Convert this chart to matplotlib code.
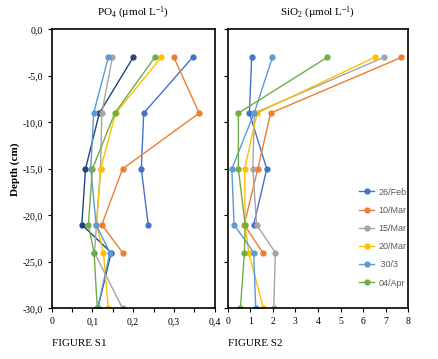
import numpy as np
import matplotlib
matplotlib.use("Agg")
import matplotlib.pyplot as plt
from matplotlib.ticker import FuncFormatter, MultipleLocator

plt.rcParams['font.family'] = ['Liberation Serif', 'DejaVu Serif']
plt.rcParams['mathtext.fontset'] = 'custom'
plt.rcParams['mathtext.rm'] = 'Liberation Serif'
plt.rcParams['mathtext.it'] = 'Liberation Serif:italic'

# series labels and colours (Excel default palette)
labels = ['26/Feb', '10/Mar', '15/Mar', '20/Mar', ' 30/3', '04/Apr']
colors = ['#4472C4', '#ED7D31', '#A5A5A5', '#FFC000', '#5B9BD5', '#70AD47']

# PO4 profiles (depth, value)
po4_depth = {
    '26/Feb': [-3, -9, -15, -21],
    '10/Mar': [-3, -9, -15, -21, -24],
    '15/Mar': [-3, -9, -15, -21, -24, -30],
    '20/Mar': [-3, -9, -15, -21, -24, -30],
    ' 30/3':  [-3, -9, -15, -21, -24, -30],
    '04/Apr': [-3, -9, -15, -21, -24, -30],
}
po4_vals = {
    '26/Feb': [0.346, 0.226, 0.220, 0.237],
    '10/Mar': [0.300, 0.362, 0.174, 0.123, 0.174],
    '15/Mar': [0.149, 0.123, 0.120, 0.110, 0.105, 0.174],
    '20/Mar': [0.269, 0.157, 0.120, 0.110, 0.127, 0.139],
    ' 30/3':  [0.139, 0.103, 0.096, 0.109, 0.143, 0.113],
    '04/Apr': [0.253, 0.155, 0.100, 0.090, 0.104, 0.112],
}
# extra unlabelled series only on the PO4 chart
navy_depth = [-3, -9, -15, -21, -24, -30]
navy_vals = [0.200, 0.117, 0.083, 0.074, 0.146, 0.113]

# SiO2 profiles
sio2_depth = {
    '26/Feb': [-3, -9, -15, -21],
    '10/Mar': [-3, -9, -15, -21, -24],
    '15/Mar': [-3, -9, -15, -21, -24, -30],
    '20/Mar': [-3, -9, -15, -21, -24, -30],
    ' 30/3':  [-3, -9, -15, -21, -24, -30],
    '04/Apr': [-3, -9, -15, -21, -24, -30],
}
sio2_vals = {
    '26/Feb': [1.06, 0.96, 1.73, 1.15],
    '10/Mar': [7.70, 1.90, 1.33, 0.73, 1.55],
    '15/Mar': [6.92, 1.18, 1.11, 1.28, 2.11, 2.04],
    '20/Mar': [6.51, 1.30, 0.75, 0.77, 0.93, 1.58],
    ' 30/3':  [1.98, 1.17, 0.18, 0.28, 1.15, 1.24],
    '04/Apr': [4.41, 0.47, 0.47, 0.77, 0.74, 0.56],
}

def comma_x(v, pos):
    if abs(v) < 1e-9:
        return '0'
    return '{:.1f}'.format(v).replace('.', ',')

fig = plt.figure(figsize=(4.38, 3.59), dpi=100)
ax1 = fig.add_axes([0.118, 0.141, 0.372, 0.777])
ax2 = fig.add_axes([0.520, 0.141, 0.412, 0.777])

ax1.plot(navy_vals, navy_depth, color='#264478', marker='o', ms=3.5, lw=1)
for lab, c in zip(labels, colors):
    ax1.plot(po4_vals[lab], po4_depth[lab], color=c, marker='o', ms=3.5, lw=1)
    ax2.plot(sio2_vals[lab], sio2_depth[lab], color=c, marker='o', ms=3.5, lw=1, label=lab)

ax1.set_xlim(0, 0.4)
ax2.set_xlim(0, 8)
for ax in (ax1, ax2):
    ax.set_ylim(-30, 0)
    ax.yaxis.set_major_locator(MultipleLocator(5))
    for s in ax.spines.values():
        s.set_linewidth(1.2)
        s.set_color('black')
    ax.tick_params(labelsize=7, length=3, width=0.8, direction='out')

ax1.xaxis.set_major_locator(MultipleLocator(0.1))
ax1.xaxis.set_minor_locator(MultipleLocator(0.05))
ax1.tick_params(axis='x', which='minor', length=3, width=0.8)
ax1.xaxis.set_major_formatter(FuncFormatter(comma_x))
ax1.yaxis.set_major_formatter(FuncFormatter(lambda v, p: '{:.1f}'.format(v).replace('.', ',')))
ax2.xaxis.set_major_locator(MultipleLocator(1))
ax2.set_yticklabels([])

ax1.set_ylabel('Depth (cm)', fontsize=8, fontweight='bold', labelpad=2)
ax1.set_title('PO$_4$ (µmol L$^{-1}$)', fontsize=8, pad=10)
ax2.set_title('SiO$_2$ (µmol L$^{-1}$)', fontsize=8, pad=10)

fig.text(0.118, 0.035, 'FIGURE S1', fontsize=8)
fig.text(0.520, 0.035, 'FIGURE S2', fontsize=8)

leg = ax2.legend(loc='center left', bbox_to_anchor=(0.685, 0.254), frameon=False,
                 prop={'family': 'Liberation Sans', 'size': 6.5},
                 handlelength=1.6, labelspacing=1.02, handletextpad=0.5)
for t in leg.get_texts():
    t.set_color('#595959')

fig.savefig('out.png', dpi=100)
